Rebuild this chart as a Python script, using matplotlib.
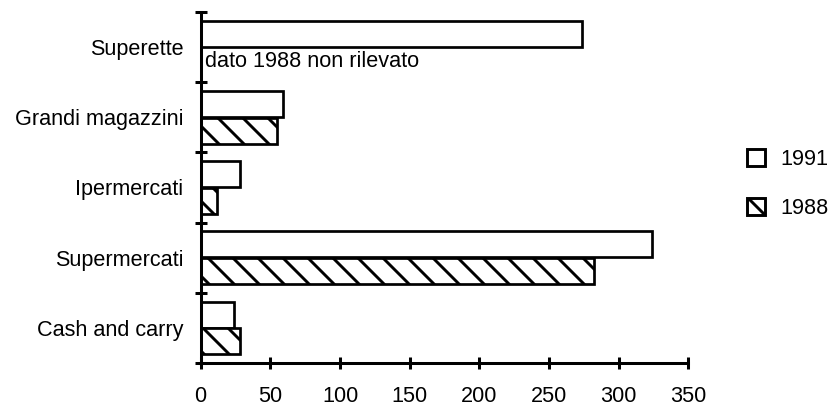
import matplotlib
matplotlib.use("Agg")
import matplotlib.pyplot as plt
from matplotlib.patches import Patch
import numpy as np

plt.rcParams['font.family'] = ['Liberation Sans', 'DejaVu Sans']
plt.rcParams['hatch.linewidth'] = 1.4

categorie = ['Cash and carry', 'Supermercati', 'Ipermercati', 'Grandi magazzini', 'Superette']
v1991 = [24, 324, 28, 59, 274]
v1988 = [28, 282, 11.5, 55, np.nan]   # superette: dato 1988 non rilevato
xticks = [0, 50, 100, 150, 200, 250, 300, 350]

fs = 10.4
h = 0.37
y = np.arange(len(categorie))

fig = plt.figure(figsize=(831 / 150, 408 / 150), dpi=150)
ax = fig.add_axes([0.2415, 0.1103, 0.5868, 0.8603])

ax.barh(y + 0.19, v1991, height=h, color='white', edgecolor='black', linewidth=1.3)
ok = ~np.isnan(v1988)
ax.barh(y[ok] - 0.19, np.array(v1988)[ok], height=h, color='white',
        edgecolor='black', linewidth=1.3, hatch='\\\\')

ax.text(3, 4 - 0.21, 'dato 1988 non rilevato', va='center', ha='left', fontsize=fs)

ax.set_xlim(0, 350)
ax.set_ylim(-0.5, len(categorie) - 0.5)

for s in ['top', 'right']:
    ax.spines[s].set_visible(False)
for s in ['left', 'bottom']:
    ax.spines[s].set_linewidth(1.45)

ax.set_xticks(xticks)
ax.set_xticklabels([str(t) for t in xticks], fontsize=fs)
ax.tick_params(axis='x', direction='inout', length=5.8, width=1.45, pad=8.0)

# tacche ai confini delle categorie, etichette al centro
ax.set_yticks(np.arange(-0.5, len(categorie)), labels=[''] * (len(categorie) + 1))
ax.set_yticks(y, labels=categorie, minor=True)
ax.tick_params(axis='y', which='major', direction='inout', length=5.8, width=1.45)
ax.tick_params(axis='y', which='minor', length=0, pad=8.3, labelsize=fs)

handles = [Patch(facecolor='white', edgecolor='black', linewidth=1.4, label='1991'),
           Patch(facecolor='white', edgecolor='black', linewidth=1.4, hatch='\\\\', label='1988')]
fig.legend(handles=handles, loc='center left', bbox_to_anchor=(747 / 831, 0.549),
           frameon=False, fontsize=fs, handlelength=0.83, handleheight=0.83,
           handletextpad=0.7, labelspacing=1.3, borderpad=0, borderaxespad=0)

fig.savefig('out.png', dpi=150)
